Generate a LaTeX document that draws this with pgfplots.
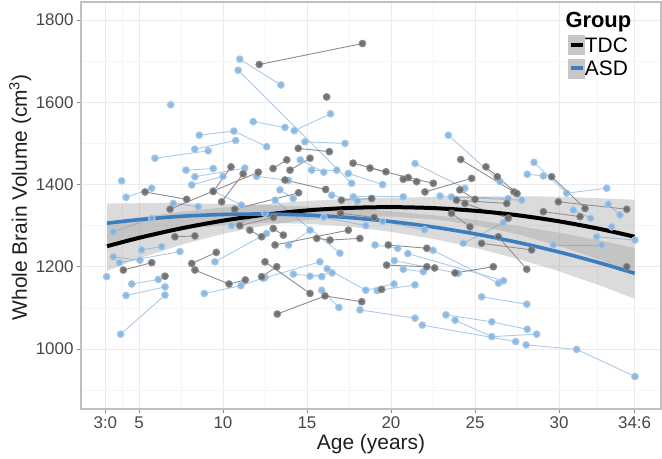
\documentclass[border=0pt]{standalone}
\usepackage{pgfplots}
\pgfplotsset{compat=1.18}
\usepackage{fontspec}
\setmainfont{Liberation Sans}
\definecolor{asdl}{HTML}{A9CBE9}
\definecolor{asdp}{HTML}{7DB0DE}
\definecolor{tdcl}{HTML}{8C8C8C}
\definecolor{tdcp}{HTML}{5E5E5E}
\definecolor{asdfit}{HTML}{3A7EC0}
\pgfplotsset{
 asd/.style={forget plot, color=asdl, line width=0.9bp, mark=*, mark size=3.4bp, mark options={draw=none, fill=asdp, fill opacity=0.85}},
 tdc/.style={forget plot, color=tdcl, line width=0.9bp, mark=*, mark size=3.4bp, mark options={draw=none, fill=tdcp, fill opacity=0.85}},
}
\begin{document}
\begin{tikzpicture}
\useasboundingbox (-81bp,-50bp) rectangle (581bp,409bp);
\begin{axis}[
 scale only axis, width=580bp, height=407bp,
 xmin=1.55, xmax=36.07, ymin=854, ymax=1844,
 xtick={3,5,10,15,20,25,30,34.5},
 xticklabels={3:0,5,10,15,20,25,30,34:6},
 ytick={1000,1200,1400,1600,1800},
 minor xtick={4,7.5,12.5,17.5,22.5,27.5,32.25},
 minor ytick={900,1100,1300,1500,1700},
 /pgf/number format/assume math mode=true,
 /pgf/number format/1000 sep={},
 grid=both,
 major grid style={draw=black!8, line width=0.8bp},
 minor grid style={draw=black!4, line width=0.5bp},
 axis line style={draw=black!25, line width=1.2bp},
 tick align=outside, major tick length=4bp, minor tick length=0pt,
 tick style={draw=black!45, line width=0.8bp},
 xtick pos=bottom, ytick pos=left,
 ticklabel style={font=\fontsize{17}{20}\selectfont, text=black!72},
 xlabel={Age (years)},
 ylabel={Whole Brain Volume (cm\textsuperscript{3})},
 every axis x label/.style={at={(axis description cs:0.5,-0.087)}, anchor=center, font=\fontsize{21}{24}\selectfont, text=black!88},
 every axis y label/.style={at={(axis description cs:-0.105,0.52)}, rotate=90, anchor=center, font=\fontsize{21}{24}\selectfont, text=black!88},
 legend style={at={(axis description cs:0.835,0.924)}, anchor=north west, draw=none, fill=none,
   font=\fontsize{21}{21}\selectfont, nodes={inner sep=0pt, text height=15bp, text depth=0bp}, row sep=4bp,
   /tikz/every even column/.append style={column sep=2bp}},
 legend cell align=left,
 clip=true,
]
% ---------------- ASD subjects ----------------
\addplot[asd] coordinates {(11.0,1705) (13.45,1642)};
\addplot[asd] coordinates {(10.9,1678) (17.66,1403)};
\addplot[asd] coordinates {(6.89,1594)};
\addplot[asd] coordinates {(11.8,1553) (13.69,1539)};
\addplot[asd] coordinates {(8.59,1520) (10.65,1530) (12.6,1492)};
\addplot[asd] coordinates {(8.32,1486) (10.76,1507)};
\addplot[asd] coordinates {(14.24,1531) (16.4,1572)};
\addplot[asd] coordinates {(14.88,1504) (17.26,1500)};
\addplot[asd] coordinates {(23.41,1520) (26.49,1407)};
\addplot[asd] coordinates {(5.95,1464) (9.12,1482)};
\addplot[asd] coordinates {(3.97,1409)};
\addplot[asd] coordinates {(4.23,1369) (5.76,1391)};
\addplot[asd] coordinates {(7.8,1435) (9.42,1439)};
\addplot[asd] coordinates {(8.33,1419) (11.3,1440)};
\addplot[asd] coordinates {(3.47,1285) (5.76,1318)};
\addplot[asd] coordinates {(3.47,1224) (5.06,1216)};
\addplot[asd] coordinates {(3.83,1210) (7.44,1237)};
\addplot[asd] coordinates {(5.16,1241) (6.35,1249)};
\addplot[asd] coordinates {(3.08,1176)};
\addplot[asd] coordinates {(4.57,1158) (6.15,1169)};
\addplot[asd] coordinates {(4.23,1130) (6.55,1151)};
\addplot[asd] coordinates {(3.91,1036) (6.55,1131)};
\addplot[asd] coordinates {(8.89,1135) (11.07,1154) (12.5,1174)};
\addplot[asd] coordinates {(14.19,1182) (15.88,1176)};
\addplot[asd] coordinates {(15.18,1177) (16.5,1185)};
\addplot[asd] coordinates {(15.88,1143) (16.9,1101)};
\addplot[asd] coordinates {(18.15,1095) (21.43,1075)};
\addplot[asd] coordinates {(21.86,1058) (27.42,1018)};
\addplot[asd] coordinates {(16.2,1195) (18.5,1143) (20.18,1158)};
\addplot[asd] coordinates {(19.18,1142) (21.43,1156)};
\addplot[asd] coordinates {(23.27,1083) (26.0,1066) (28.11,1048)};
\addplot[asd] coordinates {(23.81,1070) (26.0,1030) (28.67,1036)};
\addplot[asd] coordinates {(28.04,1010) (31.05,999) (34.52,933)};
\addplot[asd] coordinates {(25.39,1127) (28.08,1109)};
\addplot[asd] coordinates {(22.5,1240) (26.4,1160)};
\addplot[asd] coordinates {(21.0,1232) (26.7,1166)};
\addplot[asd] coordinates {(20.2,1215) (24.0,1184)};
\addplot[asd] coordinates {(28.51,1454) (30.45,1379) (32.84,1391)};
\addplot[asd] coordinates {(28.11,1425) (29.07,1421)};
\addplot[asd] coordinates {(30.85,1338) (31.88,1318)};
\addplot[asd] coordinates {(32.93,1352) (33.63,1326)};
\addplot[asd] coordinates {(32.24,1273) (34.52,1265)};
\addplot[asd] coordinates {(29.66,1253) (32.54,1253)};
\addplot[asd] coordinates {(21.43,1451) (24.4,1391)};
\addplot[asd] coordinates {(17.76,1370) (20.73,1370)};
\addplot[asd] coordinates {(23.6,1370) (27.78,1362)};
\addplot[asd] coordinates {(22.92,1372) (26.98,1366)};
\addplot[asd] coordinates {(15.28,1435) (16.77,1435)};
\addplot[asd] coordinates {(17.46,1427) (19.5,1400)};
\addplot[asd] coordinates {(16.47,1374) (18.0,1360)};
\addplot[asd] coordinates {(13.39,1387) (14.18,1366)};
\addplot[asd] coordinates {(13.1,1362) (16.96,1233)};
\addplot[asd] coordinates {(20.73,1194) (21.92,1188)};
\addplot[asd] coordinates {(12.4,1172) (15.77,1212)};
\addplot[asd] coordinates {(9.52,1212) (12.6,1281)};
\addplot[asd] coordinates {(7.04,1354) (8.53,1346)};
\addplot[asd] coordinates {(9.42,1385) (11.1,1350)};
\addplot[asd] coordinates {(13.9,1253) (15.18,1289)};
\addplot[asd] coordinates {(19.05,1253) (20.4,1245)};
\addplot[asd] coordinates {(24.3,1257) (26.68,1307)};
\addplot[asd] coordinates {(33.14,1297)};
\addplot[asd] coordinates {(16.0,1320) (18.5,1300)};
\addplot[asd] coordinates {(10.5,1300) (12.5,1330)};
\addplot[asd] coordinates {(19.5,1310) (22.0,1290)};
\addplot[asd] coordinates {(8.14,1399) (10.0,1420)};
\addplot[asd] coordinates {(14.6,1460) (16.0,1430)};
\addplot[asd] coordinates {(12.0,1420) (13.9,1410)};
% ---------------- TDC subjects ----------------
\addplot[tdc] coordinates {(12.16,1692) (18.3,1743)};
\addplot[tdc] coordinates {(16.17,1613)};
\addplot[tdc] coordinates {(14.48,1488) (16.33,1480)};
\addplot[tdc] coordinates {(17.74,1452) (19.7,1431)};
\addplot[tdc] coordinates {(18.75,1440) (21.03,1417) (22.52,1403)};
\addplot[tdc] coordinates {(20.73,1413) (21.53,1407)};
\addplot[tdc] coordinates {(24.15,1461) (27.32,1382)};
\addplot[tdc] coordinates {(25.65,1443) (26.33,1419) (27.5,1378)};
\addplot[tdc] coordinates {(29.56,1419) (31.55,1342)};
\addplot[tdc] coordinates {(29.96,1358) (34.03,1340)};
\addplot[tdc] coordinates {(22.02,1382) (24.8,1415)};
\addplot[tdc] coordinates {(13.99,1435) (15.18,1464)};
\addplot[tdc] coordinates {(13.69,1411) (16.11,1388)};
\addplot[tdc] coordinates {(17.05,1362) (18.85,1366)};
\addplot[tdc] coordinates {(12.99,1293) (13.59,1277)};
\addplot[tdc] coordinates {(15.58,1269) (16.37,1265) (18.15,1269)};
\addplot[tdc] coordinates {(13.1,1253) (17.46,1289)};
\addplot[tdc] coordinates {(19.84,1253) (22.13,1245)};
\addplot[tdc] coordinates {(19.74,1204) (22.13,1200) (22.6,1197)};
\addplot[tdc] coordinates {(23.81,1185) (26.09,1200)};
\addplot[tdc] coordinates {(25.39,1257) (28.37,1241)};
\addplot[tdc] coordinates {(29.07,1334) (31.25,1322)};
\addplot[tdc] coordinates {(34.03,1200)};
\addplot[tdc] coordinates {(5.36,1382) (7.84,1364)};
\addplot[tdc] coordinates {(9.42,1383) (10.48,1443)};
\addplot[tdc] coordinates {(9.92,1358) (11.2,1426)};
\addplot[tdc] coordinates {(6.85,1340) (12.1,1430)};
\addplot[tdc] coordinates {(7.14,1273) (8.33,1275)};
\addplot[tdc] coordinates {(4.07,1192) (5.76,1210)};
\addplot[tdc] coordinates {(8.14,1208) (9.6,1235)};
\addplot[tdc] coordinates {(8.33,1192) (10.36,1158) (11.33,1168)};
\addplot[tdc] coordinates {(6.55,1177)};
\addplot[tdc] coordinates {(13.23,1085) (16.07,1129) (18.26,1115)};
\addplot[tdc] coordinates {(12.5,1212) (15.18,1135)};
\addplot[tdc] coordinates {(19.44,1145)};
\addplot[tdc] coordinates {(12.3,1176) (13.2,1200)};
\addplot[tdc] coordinates {(12.98,1439) (13.8,1460)};
\addplot[tdc] coordinates {(24.1,1387) (25.0,1364)};
\addplot[tdc] coordinates {(23.9,1362) (26.89,1354)};
\addplot[tdc] coordinates {(24.4,1354) (26.98,1318)};
\addplot[tdc] coordinates {(23.6,1330) (24.7,1297)};
\addplot[tdc] coordinates {(26.39,1273) (28.08,1194)};
\addplot[tdc] coordinates {(11.0,1300) (13.0,1320)};
\addplot[tdc] coordinates {(11.6,1289) (12.3,1273)};
\addplot[tdc] coordinates {(10.7,1340) (14.5,1380)};
\addplot[tdc] coordinates {(17.0,1330) (19.0,1320)};
% ---------------- confidence ribbons ----------------
\addplot[forget plot, draw=none, fill=black!40, fill opacity=0.35] coordinates {
 (3.1,1310) (5,1320.3) (7.5,1333.3) (10,1344.1) (12.5,1352.6) (15,1360) (17.5,1365.1) (20,1368) (22.5,1369.7) (25,1371.2) (27.5,1371.5) (30,1370.5) (32.5,1366.4) (34.5,1363)
 (34.5,1183) (32.5,1216.4) (30,1250.5) (27.5,1279.5) (25,1301.2) (22.5,1315.7) (20,1322) (17.5,1321.1) (15,1314) (12.5,1300.6) (10,1280.1) (7.5,1253.3) (5,1220.3) (3.1,1190)} -- cycle;
\addplot[forget plot, draw=none, fill=black!40, fill opacity=0.35] coordinates {
 (3.1,1354) (5,1354.5) (7.5,1354.7) (10,1353.2) (12.5,1350.2) (15,1346.7) (17.5,1341.6) (20,1335) (22.5,1325.8) (25,1314) (27.5,1299.7) (30,1282.9) (32.5,1263.5) (34.5,1246)
 (34.5,1122) (32.5,1153.5) (30,1188.9) (27.5,1219.7) (25,1246) (22.5,1267.8) (20,1285) (17.5,1297.6) (15,1304.7) (12.5,1306.2) (10,1301.2) (7.5,1290.7) (5,1274.5) (3.1,1258)} -- cycle;
% ---------------- fitted curves ----------------
\addplot[forget plot, smooth, black, line width=4bp] coordinates {
 (3.1,1250) (5,1270.3) (7.5,1293.3) (10,1312.1) (12.5,1326.6) (15,1337) (17.5,1343.1) (20,1345) (22.5,1342.7) (25,1336.2) (27.5,1325.5) (30,1310.5) (32.5,1291.4) (34.5,1273)};
\addplot[forget plot, smooth, asdfit, line width=3.6bp] coordinates {
 (3.1,1306) (5,1314.5) (7.5,1322.7) (10,1327.2) (12.5,1328.2) (15,1325.7) (17.5,1319.6) (20,1310) (22.5,1296.8) (25,1280) (27.5,1259.7) (30,1235.9) (32.5,1208.5) (34.5,1184)};
% ---------------- legend ----------------
\addlegendimage{black, legend image code/.code={\fill[black!22] (0bp,-9.5bp) rectangle (16bp,9.5bp); \draw[line width=3.5bp] (2bp,0bp) -- (14bp,0bp);}}
\addlegendentry{TDC}
\addlegendimage{asdfit, legend image code/.code={\fill[black!22] (0bp,-9.5bp) rectangle (16bp,9.5bp); \draw[line width=3.5bp] (2bp,0bp) -- (14bp,0bp);}}
\addlegendentry{ASD}
\node[anchor=north west, inner sep=0pt, font=\bfseries\fontsize{22}{22}\selectfont] at (axis description cs:0.835,0.975) {Group};
\end{axis}
\end{tikzpicture}
\end{document}
